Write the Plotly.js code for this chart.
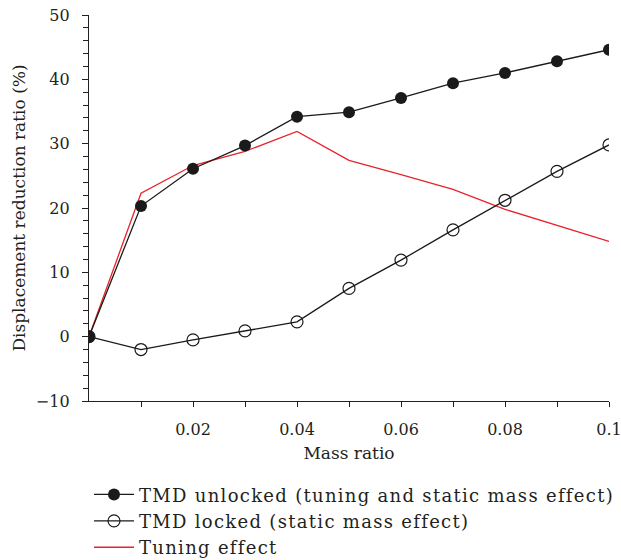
<!DOCTYPE html>
<html>
<head>
<meta charset="utf-8">
<script src="https://cdn.plot.ly/plotly-3.0.1.min.js"></script>
<style>html,body{margin:0;padding:0;background:#fff;}#chart{width:621px;height:560px;}
.legendtext{letter-spacing:1.3px;}</style>
</head>
<body>
<div id="chart"></div>
<script>
const massRatio = [0, 0.01, 0.02, 0.03, 0.04, 0.05, 0.06, 0.07, 0.08, 0.09, 0.1];
const tmdUnlocked = [0, 20.3, 26.1, 29.7, 34.2, 34.9, 37.1, 39.4, 41.0, 42.8, 44.6];
const tmdLocked = [0, -2.0, -0.5, 0.9, 2.3, 7.5, 11.9, 16.6, 21.2, 25.7, 29.8];
const tuningEffect = [0, 22.3, 26.6, 28.8, 31.9, 27.4, 25.2, 22.9, 19.8, 17.3, 14.8];
const seriesNames = ["TMD unlocked (tuning and static mass effect)", "TMD locked (static mass effect)", "Tuning effect"];
const xTickVals = [0.01, 0.02, 0.03, 0.04, 0.05, 0.06, 0.07, 0.08, 0.09, 0.1];
const xTickText = ["", "0.02", "", "0.04", "", "0.06", "", "0.08", "", "0.1"];

const font = "DejaVu Serif, serif";
const ink = "#231f20";
const traces = [
  {x: massRatio, y: tuningEffect, name: seriesNames[2], mode: "lines",
   line: {color: "#e8232a", width: 1.3}, legendrank: 3},
  {x: massRatio, y: tmdLocked, name: seriesNames[1], mode: "lines+markers",
   line: {color: "#1a1a1a", width: 1.3},
   marker: {symbol: "circle-open", size: 12, color: "#1a1a1a", line: {width: 1.2}}, legendrank: 2},
  {x: massRatio, y: tmdUnlocked, name: seriesNames[0], mode: "lines+markers",
   line: {color: "#1a1a1a", width: 1.3},
   marker: {symbol: "circle", size: 12, color: "#1a1a1a"}, legendrank: 1}
];
const layout = {
  width: 621, height: 560,
  margin: {l: 89, r: 12, t: 15, b: 159, autoexpand: false},
  paper_bgcolor: "#fff", plot_bgcolor: "#fff",
  font: {family: font, size: 16, color: ink},
  showlegend: true,
  legend: {x: 0.0, xanchor: "left", y: -0.195, yanchor: "top", orientation: "v",
           itemwidth: 40,
           font: {family: font, size: 18, color: ink}, bgcolor: "rgba(0,0,0,0)",
           traceorder: "normal"},
  xaxis: {range: [0, 0.1], tickmode: "array", tickvals: xTickVals, ticktext: xTickText,
          ticks: "outside", ticklen: 5, tickwidth: 1, tickcolor: ink,
          showline: true, linecolor: ink, linewidth: 1.2, showgrid: false, zeroline: false,
          ticklabelstandoff: 9, ticklabeloverflow: "allow", automargin: false,
          tickfont: {family: font, size: 16},
          title: {text: "Mass ratio", font: {family: font, size: 17}, standoff: 8}},
  yaxis: {range: [-10, 50], tickmode: "linear", tick0: 0, dtick: 10,
          ticks: "outside", ticklen: 6, tickwidth: 1, tickcolor: ink,
          minor: {dtick: 2, ticks: "outside", ticklen: 5, tickwidth: 1, tickcolor: ink, showgrid: false},
          showline: true, linecolor: ink, linewidth: 1.2, showgrid: false, zeroline: false,
          ticklabelstandoff: 9, tickformat: "d", automargin: false, tickfont: {family: font, size: 16},
          title: {text: "Displacement reduction ratio (%)", font: {family: font, size: 17}, standoff: 5}},
};
Plotly.newPlot("chart", traces, layout, {displayModeBar: false, staticPlot: true});
</script>
</body>
</html>
